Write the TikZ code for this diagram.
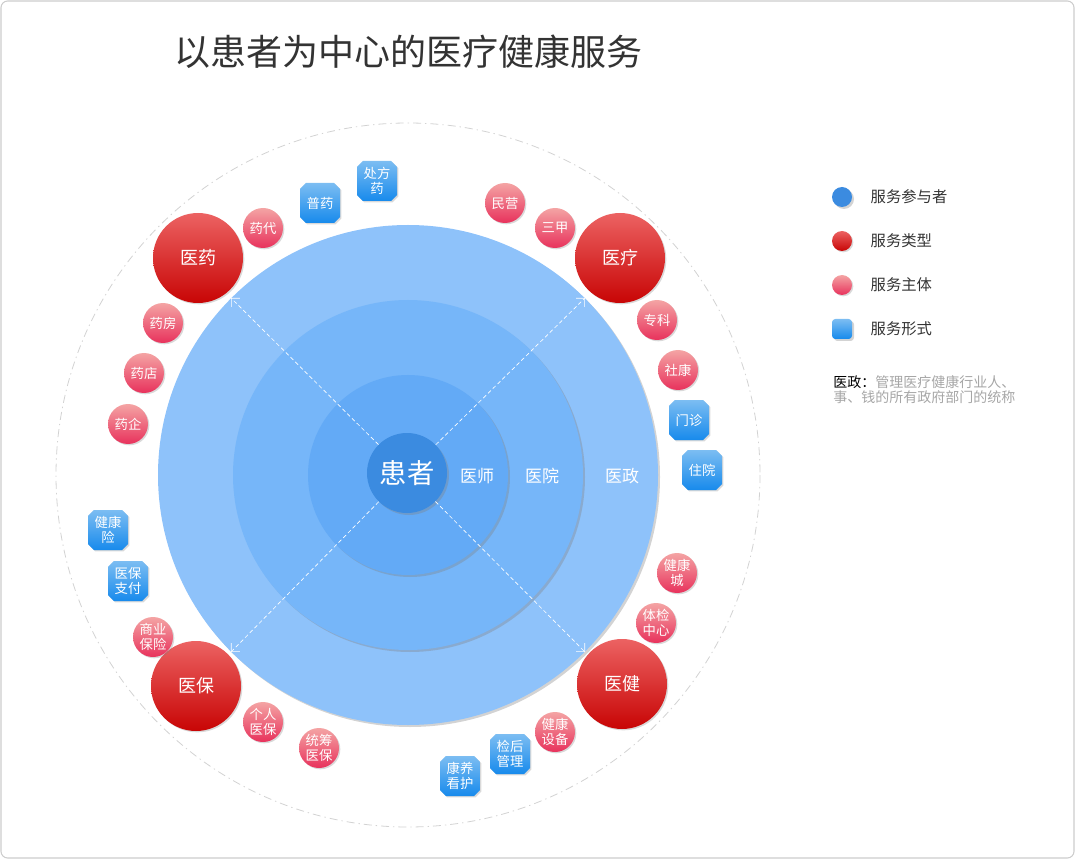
\documentclass[tikz,border=0pt]{standalone}
\usepackage{fontspec}
\setmainfont{Noto Sans CJK SC}
\usepackage{tikz}
\usetikzlibrary{arrows.meta,shapes.misc,shadows}
\definecolor{RingOut}{HTML}{8EC2FA}
\definecolor{RingMid}{HTML}{76B6F9}
\definecolor{RingIn}{HTML}{63AAF6}
\definecolor{PatBlue}{HTML}{3B8BE0}
\definecolor{TypeTop}{HTML}{EC6262}
\definecolor{TypeBot}{HTML}{C80505}
\definecolor{BodyTop}{HTML}{F4A4A4}
\definecolor{BodyBot}{HTML}{E8325C}
\definecolor{FormTop}{HTML}{7CBDF2}
\definecolor{FormBot}{HTML}{178AEC}
\definecolor{InkGray}{HTML}{333333}
\tikzset{
ringfill/.style={drop shadow={opacity=0.35,shadow xshift=1.5pt,shadow yshift=-1.5pt}},
kindball/.style={circle, minimum size=67.5pt, inner sep=0pt, top color=TypeTop, bottom color=TypeBot, text=white, font=\fontsize{13.5}{15}\selectfont, drop shadow={opacity=0.3,shadow xshift=1pt,shadow yshift=-1pt}},
bodyball/.style={circle, minimum size=30pt, inner sep=0pt, top color=BodyTop, bottom color=BodyBot, text=white, align=center, font=\fontsize{10}{11}\selectfont, drop shadow={opacity=0.3,shadow xshift=1pt,shadow yshift=-1pt}},
formbox/.style={chamfered rectangle, chamfered rectangle xsep=2.2pt, chamfered rectangle ysep=2.2pt, minimum width=30pt, minimum height=30pt, inner sep=0pt, top color=FormTop, bottom color=FormBot, text=white, align=center, font=\fontsize{10}{11}\selectfont, drop shadow={opacity=0.3,shadow xshift=1pt,shadow yshift=-1pt}},
ringlabel/.style={text=white, font=\fontsize{12.75}{14}\selectfont},
legendtext/.style={anchor=west, text=InkGray, font=\fontsize{11.5}{13}\selectfont},
spoke/.style={white, densely dashed, line width=0.5pt, -{Straight Barb[length=4.5pt]}}
}

\begin{document}
\begin{tikzpicture}[x=0.75pt,y=-0.75pt]

\useasboundingbox (0,0) rectangle (1075,859);
\draw[gray!40, line width=0.8pt, rounded corners=5pt] (1,1) rectangle (1074,858);

\node[text=InkGray, font=\fontsize{27}{30}\selectfont] (Title) at (408,52) {以患者为中心的医疗健康服务};

\coordinate (O) at (408,475);
\draw[gray!35, line width=0.6pt, dash pattern=on 6pt off 3pt on 1pt off 3pt] (O) circle [radius=352];

\fill[RingOut, ringfill] (O) circle [radius=250];
\fill[RingMid, ringfill] (O) circle [radius=175];
\fill[RingIn, ringfill] (O) circle [radius=100];

\coordinate (E1) at (231,298);
\coordinate (E2) at (585,298);
\coordinate (E3) at (231,652);
\coordinate (E4) at (585,652);

\node[circle, fill=PatBlue, minimum size=60pt, inner sep=0pt, text=white, font=\fontsize{20.5}{22}\selectfont, ringfill] (P) at (407,473) {患者};

\draw[spoke] (P) -- (E1);
\draw[spoke] (P) -- (E2);
\draw[spoke] (P) -- (E3);
\draw[spoke] (P) -- (E4);

\node[ringlabel] (R1) at (477,476) {医师};
\node[ringlabel] (R2) at (542,476) {医院};
\node[ringlabel] (R3) at (622,476) {医政};

\node[kindball] (T1) at (198,258) {医药};
\node[kindball] (T2) at (620,258) {医疗};
\node[kindball] (T3) at (196,686) {医保};
\node[kindball] (T4) at (622,684) {医健};

\node[bodyball] (S1) at (263,228) {药代};
\node[bodyball] (S2) at (163,323) {药房};
\node[bodyball] (S3) at (144,373) {药店};
\node[bodyball] (S4) at (128,424) {药企};
\node[bodyball] (S5) at (505,203) {民营};
\node[bodyball] (S6) at (555,228) {三甲};
\node[bodyball] (S7) at (657,320) {专科};
\node[bodyball] (S8) at (678,370) {社康};
\node[bodyball] (S9) at (677,573) {健康\\城};
\node[bodyball] (S10) at (656,623) {体检\\中心};
\node[bodyball] (S11) at (555,732) {健康\\设备};
\node[bodyball] (S12) at (153,637) {商业\\保险};
\node[bodyball] (S13) at (263,722) {个人\\医保};
\node[bodyball] (S14) at (319,748) {统筹\\医保};

\node[formbox] (F1) at (320,203) {普药};
\node[formbox] (F2) at (377,181) {处方\\药};
\node[formbox] (F3) at (689,420) {门诊};
\node[formbox] (F4) at (702,470) {住院};
\node[formbox] (F5) at (108,530) {健康\\险};
\node[formbox] (F6) at (128,581) {医保\\支付};
\node[formbox] (F7) at (510,754) {检后\\管理};
\node[formbox] (F8) at (460,776) {康养\\看护};

\node[circle, fill=PatBlue, minimum size=15pt, inner sep=0pt, ringfill] (L1) at (842,197) {};
\node[kindball, minimum size=15pt] (L2) at (842,241) {};
\node[bodyball, minimum size=15pt] (L3) at (842,285) {};
\node[rectangle, rounded corners=2.5pt, minimum size=15pt, inner sep=0pt, top color=FormTop, bottom color=FormBot, ringfill] (L4) at (842,329) {};

\node[legendtext] (K1) at (866,197) {服务参与者};
\node[legendtext] (K2) at (866,241) {服务类型};
\node[legendtext] (K3) at (866,285) {服务主体};
\node[legendtext] (K4) at (866,329) {服务形式};

\node[anchor=west, text=gray!70, font=\fontsize{10.5}{12}\selectfont, inner sep=0pt] (N1) at (833,382) {\textcolor{black}{医政：}管理医疗健康行业人、};
\node[anchor=west, text=gray!70, font=\fontsize{10.5}{12}\selectfont, inner sep=0pt] (N2) at (833,397) {事、钱的所有政府部门的统称};
\end{tikzpicture}
\end{document}
